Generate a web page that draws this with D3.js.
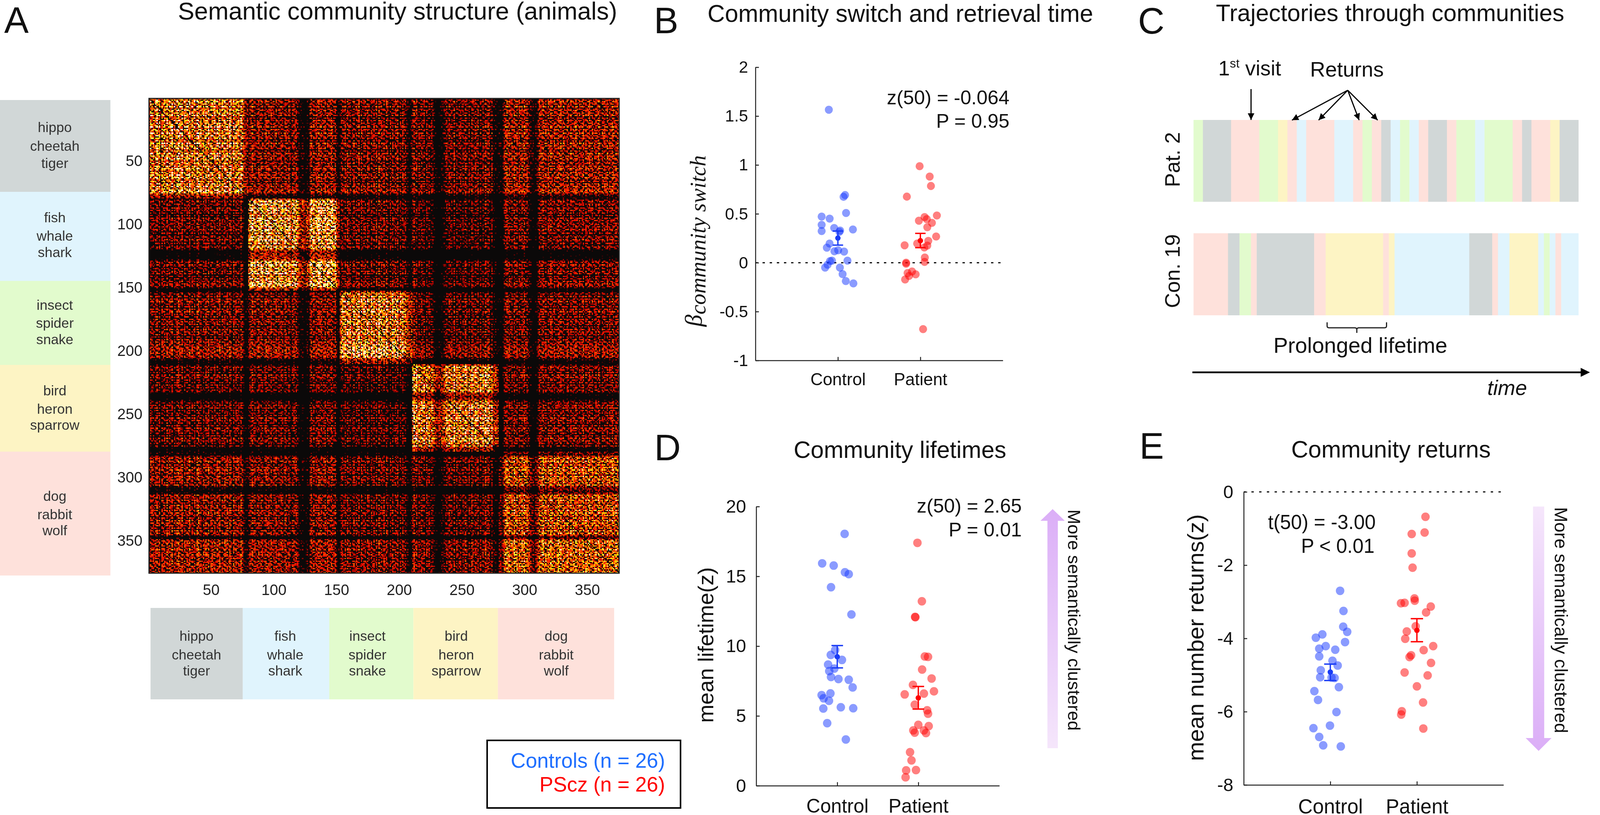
<!DOCTYPE html>
<html>
<head>
<meta charset="utf-8">
<script src="https://cdn.jsdelivr.net/npm/d3@7"></script>
<style>
  html, body { margin: 0; padding: 0; background: #fff; overflow: hidden; }
  #wrap { position: relative; width: 100vw; height: 100vh; }
  canvas, svg { position: absolute; left: 0; top: 0; width: 100%; height: 100%; }
  text { font-family: "Liberation Sans", Arial, sans-serif; fill: #111; }
</style>
</head>
<body>
<div id="wrap"></div>
<script>
const WIDTH = 4145, HEIGHT = 2086;

// --- panel A
const communities = [
  ['hippo', 'cheetah', 'tiger'],
  ['fish', 'whale', 'shark'],
  ['insect', 'spider', 'snake'],
  ['bird', 'heron', 'sparrow'],
  ['dog', 'rabbit', 'wolf']
];
const communityColors = ['#d1d7d7', '#e0f4fd', '#e2fbcd', '#fdf4c4', '#fee1db'];
const matrixTicks = [50, 100, 150, 200, 250, 300, 350];
// last word index of each community in the matrix
const communityEnds = [79, 152, 210, 279, 375];
// mean level of each community pair
const blockGain = [
  [1.75, 0.66, 0.7, 0.62, 0.76],
  [0.58, 2.0, 0.62, 0.5, 0.56],
  [0.66, 0.62, 1.95, 0.58, 0.58],
  [0.58, 0.54, 0.54, 1.95, 0.58],
  [0.76, 0.62, 0.62, 0.58, 1.2]
];
// strength of each row / column (0-9), hand estimates of the bands in the picture.
// The single cells are not read one by one: cell = gain * row * column * speckle
const rowStrength = [
  '4685739268475926384756928', '6394857263948572639485762', '5738496275849637285946897',
  '3211258476395847263958476', '5849637258496372584210111', '1125849637485926374859763',
  '1114637285946372859463728', '4857263948572638495869798', '8969732111258463729584637',
  '2846375211011246385927463', '7395846273958462739584627', '2111110358497263859467285',
  '6847392111012857394628573', '9485726394857362948520158', '7968579486975849687958679'
].join('');
const colStrength = [
  '2755368470656384758264796', '5827465936472895637485926', '6483759264857396284756395',
  '2111367958469586379685947', '6947586397485268674211210', '1216958476978569487697583',
  '1125647385624736582745638', '5274638295647385263746582', '6374522112695836475627463',
  '5421101122346475638274563', '6485273964758263749586372', '2211110257968574968375869',
  '5743211012486795738697485', '6978586497385769648579386', '7958468597386759486975867'
].join('');
// hand-typed speckle sample, repeated over the matrix. It imitates the look of the
// cells, it is not a measurement of them
const speckle = [
  '75053957308596305731875', '30596750839507165082963', '58026589530268957306185',
  '19750386957025638951704', '65208597130658930475862', '03867592850397165208396',
  '57930158692570389615037', '86051379058623950874591', '25798036517908452369607',
  '70365928603157986040258', '93150786295036817526903', '46902573018695320789516',
  '05786315927048653102978', '68130597206835971659430', '30895216870593028476051',
  '92576038159764203985687', '15038769520618957302946', '78460195873205690147538',
  '50627938016579384260795'
];

// --- panel C (community index, length of stay)
const pat2Community = [2,0,4,2,3,4,1,4,1,4,2,4,0,1,2,1,4,0,4,2,1,2,4,0,4,3,0];
const pat2Length    = [1,3,3,2,1,1,1,3,2,1,1,1,1,1,1,1,1,2,1,2,1,3,1,1,2,1,2];
const con19Community = [4,0,2,4,0,4,3,4,3,1,0,4,1,3,1,2,1,4,1];
const con19Length    = [6,2,2,1,10,2,10,1,1,13,4,1,2,5,1,1,1,1,3];

// --- panel B
const bControlOffset = [-.110,.087,.069,.099,-.197,-.100,-.197,-.197,-.045,.027,.182,-.101,-.134,-.042,.003,.075,.116,-.072,-.096,-.125,-.155,.024,.057,.096,.188,.018];
const bControlValue = [1.565,.692,.674,.509,.472,.451,.387,.324,.355,.329,.340,.196,.154,.117,.127,.114,.021,.021,.016,-.021,-.050,-.050,-.117,-.188,-.212,.316];
const bPatientOffset = [-.009,.113,.128,-.164,.2,.051,.078,-.018,.14,.084,.191,.096,-.039,.084,.048,-.191,.054,.051,-.173,-.173,-.101,-.155,-.057,-.137,-.185,.033];
const bPatientValue = [.987,.881,.785,.676,.483,.467,.446,.430,.408,.363,.268,.223,.196,.175,.156,.178,.053,.008,0,-.01,-.09,-.106,-.119,-.135,-.172,-.679];
const bSummary = [[.252, .180, .324], [.225, .154, .30]]; // mean, low, high

// --- panel D
const dControlOffset = [.091,-.186,-.044,.095,.142,-.077,.175,-.026,-.08,.058,-.113,-.036,-.099,-.077,.015,.142,.19,-.084,-.193,-.168,-.102,-.172,.044,.197,-.124,.106];
const dControlValue = [18.04,15.93,15.77,15.29,15.16,14.22,12.27,9.72,9.37,9.01,8.68,8.39,8.21,7.79,7.64,7.59,7.04,6.61,6.49,6.26,6.08,5.53,5.62,5.55,4.48,3.31];
const dPatientOffset = [-.011,.044,-.04,-.036,.08,.12,.047,.164,-.066,.193,-.168,.069,-.044,.109,.12,0,.128,-.062,.069,-.044,.095,-.102,-.084,-.15,-.029,-.157];
const dPatientValue = [17.4,13.21,12.09,12.07,9.26,9.23,8.32,7.68,7.22,6.76,6.54,6.6,5.8,5.4,5.16,4.36,4.27,3.96,3.96,3.8,3.77,2.4,1.81,1.1,1.12,.6];
const dSummary = [[9.24, 8.44, 10.04], [6.29, 5.49, 7.11]];

// --- panel E
const eControlOffset = [.113,.152,.149,.195,-.092,-.167,.17,-.053,-.128,.057,-.128,.025,.085,-.11,-.117,.05,.099,-.184,-.142,.071,-.195,-.004,-.128,-.082,.121,.014];
const eControlValue = [-2.70,-3.25,-3.68,-3.82,-3.89,-3.98,-4.10,-4.21,-4.28,-4.31,-4.49,-4.61,-4.74,-4.87,-5.06,-5.08,-5.33,-5.44,-5.68,-6.01,-6.45,-6.38,-6.69,-6.92,-6.95,-5.07];
const ePatientOffset = [.099,.089,-.06,-.06,-.05,-.028,-.025,-.184,-.142,.16,.106,-.014,-.117,-.135,.188,.078,-.067,-.085,.163,-.142,.124,0,.071,-.174,-.181,.074];
const ePatientValue = [-.68,-1.11,-1.15,-1.68,-2.07,-2.91,-2.97,-3.04,-3.03,-3.13,-3.29,-3.67,-3.81,-4.01,-4.21,-4.32,-4.46,-4.51,-4.67,-4.93,-5.01,-5.31,-5.75,-5.99,-6.08,-6.46];
const eSummary = [[-4.92, -5.15, -4.70], [-3.78, -4.09, -3.46]];

const GROUP_NAMES = ['Control', 'Patient'];
const DOT_COLORS = ['#1537ff', '#ff0000'];
const SUMMARY_COLORS = ['#1a3cf5', '#ff0000'];

const wrap = d3.select('#wrap');
const canvas = wrap.append('canvas').attr('width', WIDTH).attr('height', HEIGHT);
// the window can be narrower than the picture: draw in picture units and fit to it
const svg = wrap.append('svg')
  .attr('viewBox', `0 0 ${WIDTH} ${HEIGHT}`)
  .attr('preserveAspectRatio', 'none');

const defs = svg.append('defs');
defs.append('marker')
  .attr('id', 'head')
  .attr('viewBox', '0 0 10 10')
  .attr('refX', 10).attr('refY', 5)
  .attr('markerUnits', 'userSpaceOnUse')
  .attr('markerWidth', 17).attr('markerHeight', 17)
  .attr('orient', 'auto')
  .append('path').attr('d', 'M0,0L10,5L0,10Z').attr('fill', '#000');

function label(x, y, str, size, opts = {}) {
  const t = svg.append('text')
    .attr('x', x).attr('y', y)
    .attr('font-size', size)
    .attr('text-anchor', opts.anchor || 'start')
    .text(str);
  if (opts.color) t.style('fill', opts.color);
  if (opts.italic) t.attr('font-style', 'italic');
  if (opts.rotate) t.attr('transform', `rotate(${opts.rotate},${x},${y})`);
  return t;
}

function drawMatrix() {
  const x = d3.scaleLinear().domain([0.5, 375.5]).range([386, 1604]);
  const y = d3.scaleLinear().domain([0.5, 375.5]).range([252, 1467]);
  const color = d3.scaleLinear()
    .domain([0, 0.36, 0.46, 0.75, 1.4, 2.0, 3.0])
    .range(['#0b0909', '#0b0909', '#8a0000', '#f81000', '#ff7a00', '#ffee00', '#ffffff'])
    .clamp(true);
  const community = d3.scaleThreshold().domain(communityEnds.map(d => d + 1)).range([0, 1, 2, 3, 4, 4]);
  const weight = d3.scaleLinear().domain([0, 9]).range([0.35, 1.6]);

  const ctx = canvas.node().getContext('2d');
  ctx.fillStyle = '#0b0909';
  ctx.fillRect(x(0.5), y(0.5), x(375.5) - x(0.5), y(375.5) - y(0.5));
  for (let i = 1; i <= 375; i++) {
    for (let j = 1; j <= 375; j++) {
      // step the repeated sample along so the tile edges do not line up
      const line = speckle[(i + Math.floor(j / 23) * 7) % speckle.length];
      const cell = line[(j + Math.floor(i / 19) * 11) % line.length];
      let v = blockGain[community(i)][community(j)]
        * weight(+rowStrength[i - 1]) * weight(+colStrength[j - 1])
        * (+cell / 9);
      if (i === j) v = 0; // the diagonal is dark
      ctx.fillStyle = color(v);
      const x0 = Math.round(x(j - 0.5)), y0 = Math.round(y(i - 0.5));
      ctx.fillRect(x0, y0, Math.round(x(j + 0.5)) - x0, Math.round(y(i + 0.5)) - y0);
    }
  }
  svg.append('rect')
    .attr('x', 386).attr('y', 252).attr('width', 1218).attr('height', 1215)
    .attr('fill', 'none').attr('stroke', '#222').attr('stroke-width', 3);

  const gx = svg.append('g').attr('transform', 'translate(0,1467)')
    .call(d3.axisBottom(x).tickValues(matrixTicks).tickSize(0).tickPadding(28));
  const gy = svg.append('g').attr('transform', 'translate(386,0)')
    .call(d3.axisLeft(y).tickValues(matrixTicks).tickSize(0).tickPadding(17));
  [gx, gy].forEach(g => {
    g.select('.domain').remove();
    g.selectAll('text').attr('font-size', 39).style('font-family', '"Liberation Sans"').style('fill', '#222');
  });

  // community keys, left and below
  const leftEdges = [256, 491, 719, 934, 1156, 1473];
  const leftLines = [[338, 386, 430], [569, 616, 658], [793, 839, 881], [1012, 1059, 1100], [1282, 1329, 1370]];
  const bottomEdges = [390, 629, 853, 1071, 1290, 1591];
  const bottomCenters = [509, 739, 952, 1182, 1441];
  const bottomLines = [1640, 1688, 1729];
  communities.forEach((words, k) => {
    svg.append('rect').attr('x', 0).attr('y', leftEdges[k])
      .attr('width', 286).attr('height', leftEdges[k + 1] - leftEdges[k]).attr('fill', communityColors[k]);
    svg.append('rect').attr('x', bottomEdges[k]).attr('y', 1556)
      .attr('width', bottomEdges[k + 1] - bottomEdges[k]).attr('height', 234).attr('fill', communityColors[k]);
    words.forEach((w, n) => {
      label(142, leftLines[k][n], w, 36, { anchor: 'middle', color: '#333' });
      label(bottomCenters[k], bottomLines[n], w, 36, { anchor: 'middle', color: '#333' });
    });
  });

  // group legend
  svg.append('rect').attr('x', 1262).attr('y', 1895).attr('width', 501).attr('height', 173)
    .attr('fill', 'none').attr('stroke', '#000').attr('stroke-width', 4);
  label(1723, 1965, 'Controls (n = 26)', 53.5, { anchor: 'end', color: '#1f6fff' });
  label(1723, 2026, 'PScz (n = 26)', 53.5, { anchor: 'end', color: '#ff0000' });
}

function drawScatter(p) {
  const x = d3.scaleLinear().domain([0, 3]).range(p.xRange);
  const y = d3.scaleLinear().domain(p.yDomain).range(p.yRange);

  if (p.zeroLine) {
    svg.append('line')
      .attr('x1', x(0)).attr('x2', x(3)).attr('y1', y(0)).attr('y2', y(0))
      .attr('stroke', '#000').attr('stroke-width', 3).attr('stroke-dasharray', p.zeroDash);
  }

  const gy = svg.append('g').attr('transform', `translate(${x(0)},0)`)
    .call(d3.axisLeft(y).tickValues(p.yTicks).tickSize(-9).tickSizeOuter(0).tickPadding(p.yPad).tickFormat(d => d));
  const gx = svg.append('g').attr('transform', `translate(0,${p.yRange[0]})`)
    .call(d3.axisBottom(x).tickValues([1, 2]).tickSize(-9).tickSizeOuter(0).tickPadding(p.xPad).tickFormat(d => GROUP_NAMES[d - 1]));
  [gx, gy].forEach(g => {
    g.selectAll('.domain, line').attr('stroke', '#222').attr('stroke-width', 2.5);
    g.selectAll('text').style('font-family', '"Liberation Sans"').style('fill', '#111');
  });
  gy.selectAll('text').attr('font-size', p.yFont);
  gx.selectAll('text').attr('font-size', p.xFont);

  p.groups.forEach((g, k) => {
    const cx = k + 1;
    svg.append('g').selectAll('circle')
      .data(g.value)
      .join('circle')
      .attr('cx', (d, i) => x(cx + g.offset[i]))
      .attr('cy', d => y(d))
      .attr('r', p.r)
      .attr('fill', DOT_COLORS[k])
      .attr('fill-opacity', 0.5);

    const [mean, low, high] = p.summary[k];
    const err = svg.append('g').attr('stroke', SUMMARY_COLORS[k]).attr('stroke-width', 3.5);
    err.append('line').attr('x1', x(cx)).attr('x2', x(cx)).attr('y1', y(low)).attr('y2', y(high));
    [low, high].forEach(v => {
      err.append('line').attr('x1', x(cx) - p.cap).attr('x2', x(cx) + p.cap).attr('y1', y(v)).attr('y2', y(v));
    });
    svg.append('circle').attr('cx', x(cx)).attr('cy', y(mean)).attr('r', 7).attr('fill', SUMMARY_COLORS[k]);
  });
}

function drawTrack(community, length, y0, y1) {
  const ends = d3.cumsum(length);
  const x = d3.scaleLinear().domain([0, ends[ends.length - 1]]).range([3092, 4089]);
  svg.append('g').selectAll('rect')
    .data(community)
    .join('rect')
    .attr('x', (d, i) => x(i ? ends[i - 1] : 0))
    .attr('width', (d, i) => x(ends[i]) - x(i ? ends[i - 1] : 0) + 0.5)
    .attr('y', y0)
    .attr('height', y1 - y0)
    .attr('fill', d => communityColors[d]);
}

function arrow(x1, y1, x2, y2, width, headed) {
  svg.append('line')
    .attr('x1', x1).attr('y1', y1).attr('x2', x2).attr('y2', y2)
    .attr('stroke', '#000').attr('stroke-width', width)
    .attr('marker-end', headed ? 'url(#head)' : null);
}

function drawTrajectories() {
  drawTrack(pat2Community, pat2Length, 307, 516.5);
  drawTrack(con19Community, con19Length, 597, 807);

  label(3056, 408.5, 'Pat. 2', 54, { anchor: 'middle', rotate: -90 });
  label(3056, 694, 'Con. 19', 54, { anchor: 'middle', rotate: -90 });

  const visit = label(3156, 193, '1', 54);
  visit.append('tspan').attr('font-size', 32).attr('dy', -20).text('st');
  visit.append('tspan').attr('dy', 20).text(' visit');
  label(3394, 196, 'Returns', 54.5);

  arrow(3241, 228, 3241, 307, 3, true);
  [3347, 3416, 3521, 3569].forEach(x => arrow(3491.5, 231, x, 307.5, 3, true));

  svg.append('path')
    .attr('d', 'M3438,825V834Q3438,839 3443,839H3510Q3515,839 3515,844V852M3515,844Q3515,839 3520,839H3587Q3592,839 3592,834V825')
    .attr('fill', 'none').attr('stroke', '#222').attr('stroke-width', 3);
  label(3299, 903, 'Prolonged lifetime', 56.3);

  svg.append('line').attr('x1', 3089).attr('x2', 4096).attr('y1', 953).attr('y2', 953)
    .attr('stroke', '#000').attr('stroke-width', 4.5);
  svg.append('path').attr('d', 'M4095,941.5L4119,953L4095,964.5Z').attr('fill', '#000');
  label(3853, 1011, 'time', 54.5, { italic: true });
}

function gradientArrow(id, cx, shaft, head, tailY, headY, tipY, strong, weak, text, textX, textY, textSize) {
  const grad = defs.append('linearGradient').attr('id', id)
    .attr('gradientUnits', 'userSpaceOnUse')
    .attr('x1', 0).attr('x2', 0).attr('y1', tailY).attr('y2', tipY);
  grad.append('stop').attr('offset', 0).attr('stop-color', weak);
  grad.append('stop').attr('offset', 1).attr('stop-color', strong);
  svg.append('path')
    .attr('d', `M${cx - shaft / 2},${tailY}V${headY}H${cx - head / 2}L${cx},${tipY}L${cx + head / 2},${headY}H${cx + shaft / 2}V${tailY}Z`)
    .attr('fill', `url(#${id})`);
  label(textX, textY, text, textSize, { rotate: 90 });
}

function drawPanels() {
  label(11, 84, 'A', 95);
  label(1694, 85, 'B', 95);
  label(2948, 86, 'C', 95);
  label(1695, 1178, 'D', 95);
  label(2952, 1174, 'E', 95);

  label(461, 50, 'Semantic community structure (animals)', 63.8);
  label(1833, 56, 'Community switch and retrieval time', 62.2);
  label(3150, 54, 'Trajectories through communities', 61.2);
  label(2056, 1172, 'Community lifetimes', 61.2);
  label(3345, 1171, 'Community returns', 61.2);

  drawScatter({
    xRange: [1957, 2598], yDomain: [-1, 2], yRange: [922.6, 172],
    yTicks: [-1, -0.5, 0, 0.5, 1, 1.5, 2], zeroLine: true, zeroDash: '6 12.5',
    yPad: 19, xPad: 32, yFont: 43, xFont: 44.5, r: 10.4, cap: 13.5,
    groups: [{ offset: bControlOffset, value: bControlValue }, { offset: bPatientOffset, value: bPatientValue }],
    summary: bSummary
  });
  label(2615, 267, 'z(50) = -0.064', 50.8, { anchor: 'end' });
  label(2615, 327, 'P = 0.95', 50.8, { anchor: 'end' });
  const betaLabel = svg.append('text')
    .attr('transform', 'translate(1817,836) rotate(-90)')
    .style('font-family', '"Liberation Serif", serif')
    .attr('font-style', 'italic');
  betaLabel.append('tspan').attr('font-size', 62).text('β');
  betaLabel.append('tspan').attr('font-size', 56.7).attr('dy', 11).text('community switch');

  drawScatter({
    xRange: [1959, 2589], yDomain: [0, 20], yRange: [2011, 1296.5],
    yTicks: [0, 5, 10, 15, 20], zeroLine: false,
    yPad: 26, xPad: 34, yFont: 47, xFont: 50, r: 11, cap: 15,
    groups: [{ offset: dControlOffset, value: dControlValue }, { offset: dPatientOffset, value: dPatientValue }],
    summary: dSummary
  });
  label(2647, 1312, 'z(50) = 2.65', 50.7, { anchor: 'end' });
  label(2647, 1373, 'P = 0.01', 50.7, { anchor: 'end' });
  label(1848, 1651, 'mean lifetime(z)', 56, { anchor: 'middle', rotate: -90 });
  gradientArrow('clusterUp', 2727, 27, 63, 1915, 1333, 1303, '#dbaef7', '#f5e6fb',
    'More semantically clustered', 2767, 1304, 45.7);

  drawScatter({
    xRange: [3222, 3895], yDomain: [-8, 0], yRange: [2009, 1259],
    yTicks: [-8, -6, -4, -2, 0], zeroLine: true, zeroDash: '6 14',
    yPad: 27, xPad: 36, yFont: 47, xFont: 52, r: 11, cap: 16,
    groups: [{ offset: eControlOffset, value: eControlValue }, { offset: ePatientOffset, value: ePatientValue }],
    summary: eSummary
  });
  label(3564, 1354, 't(50) = -3.00', 51, { anchor: 'end' });
  label(3561, 1415, 'P < 0.01', 51, { anchor: 'end' });
  label(3118, 1632, 'mean number returns(z)', 58.9, { anchor: 'middle', rotate: -90 });
  gradientArrow('clusterDown', 3986, 29, 67, 1296.5, 1889, 1922, '#dbaef7', '#f5e6fb',
    'More semantically clustered', 4027.5, 1298, 46.7);
}

drawMatrix();
drawTrajectories();
drawPanels();
</script>
</body>
</html>
